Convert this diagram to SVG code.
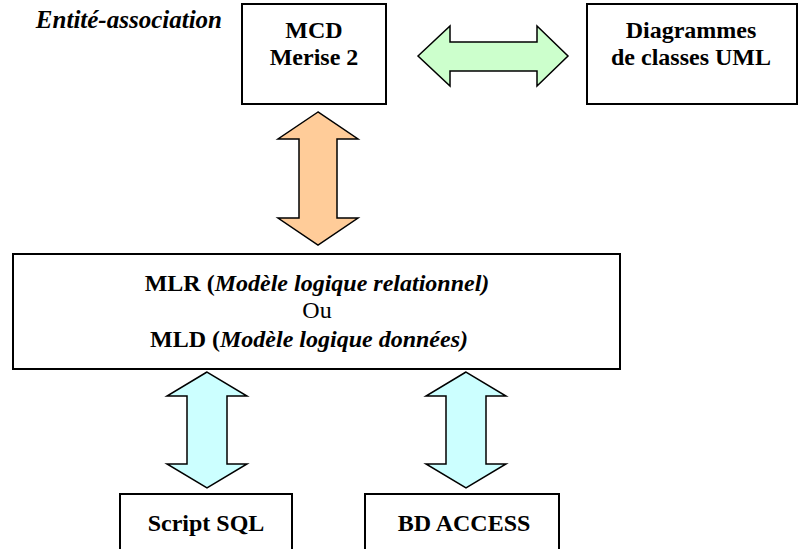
<svg xmlns="http://www.w3.org/2000/svg" width="807" height="549" viewBox="0 0 807 549">
<style>
.box{fill:#fff;stroke:#000;stroke-width:2}
text{font-family:'Liberation Serif','Times New Roman',serif;font-size:24px;fill:#000;text-anchor:middle}
.b{font-weight:bold}
.bi{font-weight:bold;font-style:italic}
.arr{stroke:#000;stroke-width:1.5;stroke-linejoin:miter}
</style>
<rect width="807" height="549" fill="#fff"/>
<g id="label-entite">
<text class="bi" x="222" y="28" style="text-anchor:end;font-size:25px">Entité-association</text>
</g>
<g id="mcd">
<rect class="box" x="242" y="4" width="144" height="100"/>
<text class="b" x="314" y="38">MCD</text>
<text class="b" x="314" y="65">Merise 2</text>
</g>
<g id="uml">
<rect class="box" x="587" y="4" width="210" height="100"/>
<text class="b" x="691" y="38">Diagrammes</text>
<text class="b" x="691" y="65">de classes UML</text>
</g>
<g id="mlr">
<rect class="box" x="13" y="254" width="607" height="115"/>
<text x="317" y="291"><tspan class="b">MLR  (</tspan><tspan class="bi">Modèle logique relationnel)</tspan></text>
<text x="317" y="318">Ou</text>
<text x="309" y="347"><tspan class="b">MLD (</tspan><tspan class="bi">Modèle logique données)</tspan></text>
</g>
<g id="sql">
<rect class="box" x="120" y="494" width="172" height="70"/>
<text class="b" x="206" y="531">Script SQL</text>
</g>
<g id="access">
<rect class="box" x="365" y="494" width="194" height="70"/>
<text class="b" x="464" y="531">BD ACCESS</text>
</g>
<g id="connectors">
<polygon class="arr" fill="#CCFFCC" points="418,56 450,26 450,42 537,42 537,26 568,56 537,86 537,71 450,71 450,86"/>
<polygon class="arr" fill="#FFCC99" points="318,112 278,139 299,139 299,218 278,218 318,245 358,218 337,218 337,139 358,139"/>
<polygon class="arr" fill="#CCFFFF" points="207,372 167,396 187,396 187,464 167,464 207,488 247,464 227,464 227,396 247,396"/>
<polygon class="arr" fill="#CCFFFF" points="466,372 426,396 446,396 446,464 426,464 466,488 506,464 486,464 486,396 506,396"/>
</g>
</svg>
